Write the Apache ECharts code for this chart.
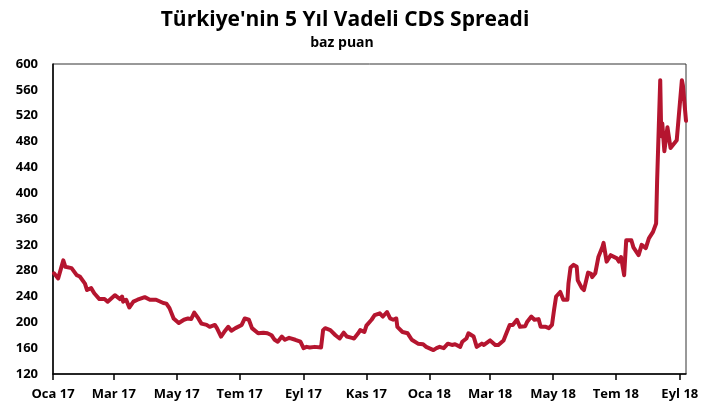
<!DOCTYPE html>
<html>
	<head>
		<meta charset="utf-8">
		<title>CDS Spreadi</title>
		<script src="https://cdn.jsdelivr.net/npm/echarts@6/dist/echarts.min.js"></script>
	</head>
	<style>
		html, body {margin:0;padding:0;background:#fff;}
		#main {width:703px;height:410px;}
	</style>
	<body>
		<div id="main"></div>
		<script>
			// veri: tarih ve baz puan
			var dates = [
				'2017-01-02','2017-01-06','2017-01-11','2017-01-13','2017-01-19','2017-01-24','2017-01-27',
				'2017-02-01','2017-02-03','2017-02-07','2017-02-10','2017-02-15','2017-02-20','2017-02-23',
				'2017-03-02','2017-03-07','2017-03-09','2017-03-10','2017-03-13','2017-03-16','2017-03-20','2017-03-24','2017-03-31',
				'2017-04-05','2017-04-11','2017-04-18','2017-04-21','2017-04-24','2017-04-28',
				'2017-05-03','2017-05-08','2017-05-12','2017-05-15','2017-05-18','2017-05-22','2017-05-25','2017-05-30',
				'2017-06-02','2017-06-07','2017-06-09','2017-06-13','2017-06-16','2017-06-20','2017-06-23','2017-06-27',
				'2017-07-03','2017-07-06','2017-07-10','2017-07-13','2017-07-19','2017-07-24','2017-07-28',
				'2017-08-01','2017-08-04','2017-08-07','2017-08-11','2017-08-14','2017-08-18','2017-08-24','2017-08-29',
				'2017-09-01','2017-09-04','2017-09-07','2017-09-12','2017-09-18','2017-09-20','2017-09-22','2017-09-27',
				'2017-10-02','2017-10-06','2017-10-10','2017-10-13','2017-10-18','2017-10-20','2017-10-24','2017-10-26','2017-10-30',
				'2017-11-01','2017-11-06','2017-11-09','2017-11-14','2017-11-17','2017-11-21','2017-11-24','2017-11-27','2017-11-30',
				'2017-12-01','2017-12-06','2017-12-11','2017-12-15','2017-12-21','2017-12-26','2017-12-29',
				'2018-01-05','2018-01-08','2018-01-11','2018-01-15','2018-01-19','2018-01-23','2018-01-26','2018-01-31',
				'2018-02-02','2018-02-06','2018-02-08','2018-02-13','2018-02-16','2018-02-21','2018-02-23',
				'2018-03-01','2018-03-06','2018-03-09','2018-03-14','2018-03-16','2018-03-20','2018-03-23','2018-03-27','2018-03-30',
				'2018-04-04','2018-04-06','2018-04-10','2018-04-13','2018-04-17','2018-04-19','2018-04-24','2018-04-27','2018-04-30',
				'2018-05-02','2018-05-04','2018-05-08','2018-05-11','2018-05-15','2018-05-16','2018-05-18','2018-05-21','2018-05-24','2018-05-25','2018-05-29','2018-05-31',
				'2018-06-04','2018-06-07','2018-06-08','2018-06-11','2018-06-14','2018-06-18','2018-06-19','2018-06-22','2018-06-26',
				'2018-07-02','2018-07-04','2018-07-06','2018-07-09','2018-07-11','2018-07-16','2018-07-18','2018-07-23','2018-07-26','2018-07-30',
				'2018-08-02','2018-08-06','2018-08-09','2018-08-10','2018-08-13','2018-08-14','2018-08-15','2018-08-17','2018-08-20','2018-08-23','2018-08-29',
				'2018-09-03','2018-09-04','2018-09-07'
			];
			var cds = [
				276,268,296,286,284,273,271,
				260,250,253,245,236,236,232,
				242,236,240,232,235,223,232,235,239,
				235,235,230,229,222,206,
				199,204,206,205,215,206,198,196,
				193,196,191,178,185,193,187,191,
				196,206,204,191,183,184,183,
				180,173,170,178,173,176,173,170,
				160,162,161,162,161,188,191,188,
				180,175,184,178,176,175,183,188,185,
				195,204,211,214,209,216,206,204,206,
				193,185,183,173,167,166,162,
				157,160,162,160,167,165,166,162,
				170,175,183,178,162,167,165,
				172,165,165,172,180,196,196,204,193,
				194,201,209,204,205,193,193,191,196,
				219,240,247,235,235,260,285,289,286,265,253,250,
				277,275,270,276,301,317,323,294,304,
				299,294,301,273,327,327,316,304,320,315,
				330,340,353,420,575,488,508,465,502,470,482,
				575,567,512
			];
			var tickDates = ['2017-01-01','2017-03-01','2017-05-01','2017-07-01','2017-09-01','2017-11-01',
				'2018-01-01','2018-03-01','2018-05-01','2018-07-01','2018-09-01'];
			var tickLabels = ['Oca 17','Mar 17','May 17','Tem 17','Eyl 17','Kas 17',
				'Oca 18','Mar 18','May 18','Tem 18','Eyl 18'];

			function toTime(d) {
				return Date.UTC(+d.slice(0, 4), +d.slice(5, 7) - 1, +d.slice(8, 10));
			}
			var seriesData = [];
			for (var i = 0; i < dates.length; i++) {
				seriesData.push([toTime(dates[i]), cds[i]]);
			}
			var tickTimes = tickDates.map(toTime);

			var chart = echarts.init(document.getElementById('main'), null, {renderer: 'canvas'});
			var font = '"Open Sans", "DejaVu Sans", sans-serif';

			var option = {
				animation: false,
				title: [{
					text: "Türkiye'nin 5 Yıl Vadeli CDS Spreadi",
					left: 340,
					top: 5,
					textAlign: 'center',
					textStyle: {fontFamily: font, fontSize: 21, fontWeight: 'bold', color: '#000'}
				}, {
					text: 'baz puan',
					left: 337,
					top: 31,
					textAlign: 'center',
					textStyle: {fontFamily: font, fontSize: 14, fontWeight: 'bold', color: '#000'}
				}],
				grid: {
					left: 53, right: 17, top: 64, bottom: 36,
					show: true,
					borderColor: '#333',
					borderWidth: 1
				},
				xAxis: {
					type: 'value',
					min: toTime('2017-01-01'),
					max: toTime('2018-09-07'),
					splitLine: {show: false},
					axisLine: {lineStyle: {color: '#000', width: 1.5}},
					axisTick: {
						show: true,
						length: 6,
						customValues: tickTimes,
						lineStyle: {color: '#000', width: 1.5}
					},
					axisLabel: {
						customValues: tickTimes,
						margin: 14,
						fontFamily: font,
						fontSize: 13,
						fontWeight: 'bold',
						color: '#000',
						formatter: function (val) {
							var idx = tickTimes.indexOf(val);
							return idx >= 0 ? tickLabels[idx] : '';
						}
					}
				},
				yAxis: {
					type: 'value',
					min: 120,
					max: 600,
					interval: 40,
					splitLine: {show: false},
					axisLine: {show: true, lineStyle: {color: '#000', width: 1.5}},
					axisTick: {show: false},
					axisLabel: {
						margin: 15,
						fontFamily: font,
						fontSize: 13,
						fontWeight: 'bold',
						color: '#000'
					}
				},
				series: [{
					type: 'line',
					data: seriesData,
					symbol: 'none',
					lineStyle: {color: '#B5152F', width: 4, cap: 'round', join: 'round'}
				}]
			};
			chart.setOption(option);
		</script>
	</body>
</html>
